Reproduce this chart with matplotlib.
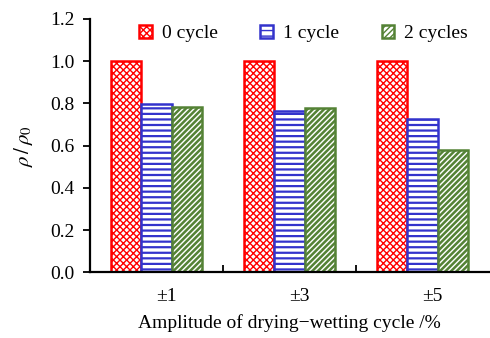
import matplotlib.pyplot as plt
import matplotlib.transforms as mtransforms
import numpy as np
from matplotlib.ticker import FixedLocator

# ── data ───────────────────────────────────────────────────────────────────────
amplitudes = ["±1", "±3", "±5"]
series_names = ["0 cycle", "1 cycle", "2 cycles"]
cycle0 = [1.0, 1.0, 1.0]
cycle1 = [0.795, 0.766, 0.728]
cycle2 = [0.785, 0.776, 0.578]

colors = ["#ff0000", "#3333cc", "#548235"]
hatches = ["xxxxx", "---", "//////"]
hatch_lw = [1.0, 1.6, 1.8]

plt.rcParams["font.family"] = ["Liberation Serif", "DejaVu Serif"]
plt.rcParams["mathtext.fontset"] = "stix"

fig = plt.figure(figsize=(4.9, 3.38), dpi=100)
ax = fig.add_axes([0.184, 0.194, 0.814, 0.750])

x = np.arange(len(amplitudes))
w = 0.228
for i, (vals, name) in enumerate(zip([cycle0, cycle1, cycle2], series_names)):
    bars = ax.bar(x + (i - 1) * w, vals, w, facecolor="white", edgecolor=colors[i],
                  hatch=hatches[i], linewidth=1.8, label=name)
    for b in bars:
        if hasattr(b, "set_hatch_linewidth"):
            b.set_hatch_linewidth(hatch_lw[i])

ax.set_xlim(-0.5, 2.5)
ax.set_ylim(0, 1.2)
yt = np.arange(0, 1.21, 0.2)
ax.set_yticks(yt)
ax.set_yticklabels([f"{v:.1f}" for v in yt])
ax.set_xticks(x)
ax.set_xticklabels(amplitudes)
ax.xaxis.set_minor_locator(FixedLocator([0.5, 1.5]))
ax.tick_params(axis="x", which="major", length=0, pad=11, labelsize=14)
ax.tick_params(axis="x", which="minor", direction="in", length=5, width=1.3)
ax.tick_params(axis="y", direction="out", length=5, width=1.3, labelsize=14, pad=6)

# category labels sit a little right of the group centre in the original
shift = mtransforms.ScaledTranslation(0.10, 0, fig.dpi_scale_trans)
for lbl in ax.get_xticklabels():
    lbl.set_transform(lbl.get_transform() + shift)

for s in ["top", "right"]:
    ax.spines[s].set_visible(False)
for s in ["left", "bottom"]:
    ax.spines[s].set_linewidth(1.6)

ax.set_ylabel(r"$\rho\,/\,\rho_0$", fontsize=15, labelpad=11)
ax.set_xlabel("Amplitude of drying\u2212wetting cycle /%", fontsize=14)
ax.xaxis.set_label_coords(0.5, -0.165)

ax.legend(loc="upper center", bbox_to_anchor=(0.535, 1.045), ncol=3, frameon=False,
          fontsize=14, handlelength=0.65, handleheight=0.65, columnspacing=2.2,
          handletextpad=0.5)

fig.savefig("out.png", dpi=100)
